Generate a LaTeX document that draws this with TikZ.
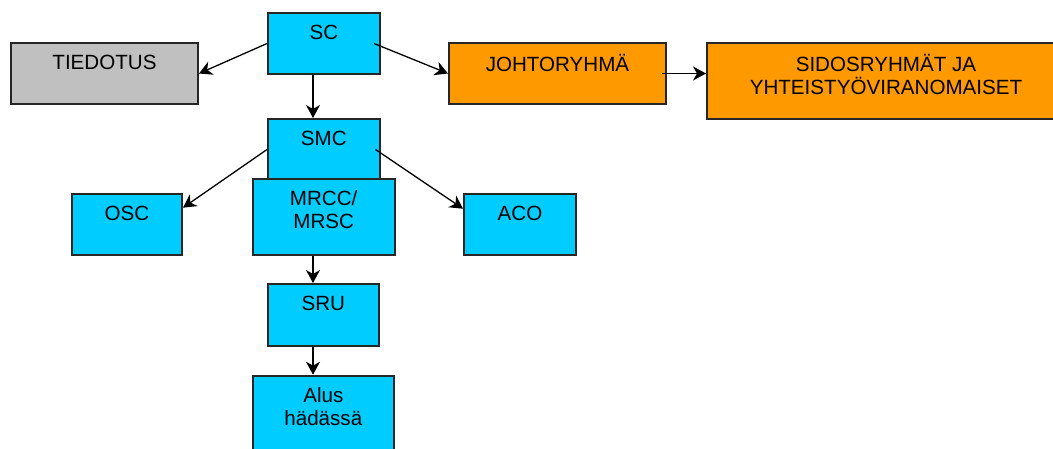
\documentclass[tikz,border=0pt]{standalone}
\usepackage{fontspec}
\setmainfont{Liberation Sans}
\usetikzlibrary{arrows.meta}
\definecolor{boxblue}{RGB}{0,204,255}
\definecolor{boxorange}{RGB}{255,153,0}
\definecolor{boxgray}{RGB}{192,192,192}
\begin{document}
\begin{tikzpicture}[x=1pt, y=-1pt,
	box/.style={draw=black!85, line width=2pt, fill=boxblue, inner sep=0pt},
	tag/.style={anchor=north, inner sep=0pt, align=center, yshift=-12.5pt, font=\fontsize{20.6}{23}\selectfont},
	link/.style={line width=1.3pt, -{Stealth[length=13pt, width=14pt, inset=4pt]}}]
	\useasboundingbox[fill=white] (0,0) rectangle (1053,448);
	
	\node[box, fill=boxgray, minimum width=187pt, minimum height=61pt, label={[tag]north:TIEDOTUS}] (tied) at (104.5,73.5) {};
	\node[box, minimum width=112pt, minimum height=61pt, label={[tag]north:SC}] (sc) at (324,43.5) {};
	\node[box, fill=boxorange, minimum width=217pt, minimum height=61pt, label={[tag]north:JOHTORYHMÄ}] (johto) at (557.5,73.5) {};
	\node[box, fill=boxorange, minimum width=358pt, minimum height=76pt, label={[tag]north:SIDOSRYHMÄT JA\\YHTEISTYÖVIRANOMAISET}] (sidos) at (886,81) {};
	
	\node[box, minimum width=111.5pt, minimum height=61pt, label={[tag]north:SMC}] (smc) at (323.75,149.5) {};
	\node[box, minimum width=142pt, minimum height=76pt, label={[tag]north:MRCC/\\MRSC}] (mrcc) at (323.7,217.2) {};
	\node[box, minimum width=110pt, minimum height=61pt, label={[tag]north:OSC}] (osc) at (127,224.7) {};
	\node[box, minimum width=112pt, minimum height=61pt, label={[tag]north:ACO}] (aco) at (520,224.7) {};
	
	\node[box, minimum width=111.3pt, minimum height=62pt, label={[tag]north:SRU}] (sru) at (323.3,315) {};
	\node[box, minimum width=141.3pt, minimum height=76pt, label={[tag]north:Alus\\hädässä}] (alus) at (323.3,413.7) {};
	
	\draw[link] (sc.west) -- (tied.east);
	\draw[link] ([xshift=-7pt]sc.east) -- (johto.west);
	\draw[link] ([xshift=-11pt]sc.south) -- ([xshift=-11pt]sc.south |- smc.north);
	\draw[link] ([xshift=-5pt]johto.east) -- (johto.east -| sidos.west);
	\draw[link] (smc.west) -- ([yshift=17pt]osc.east);
	\draw[link] ([xshift=-5pt]smc.east) -- ([yshift=16pt]aco.west);
	\draw[link] ([xshift=-11pt]sc.south |- mrcc.south) -- ([xshift=-11pt]sc.south |- sru.north);
	\draw[link, line width=2pt] ([xshift=-11pt]sc.south |- sru.south) -- ([xshift=-11pt]sc.south |- alus.north);
\end{tikzpicture}
\end{document}
